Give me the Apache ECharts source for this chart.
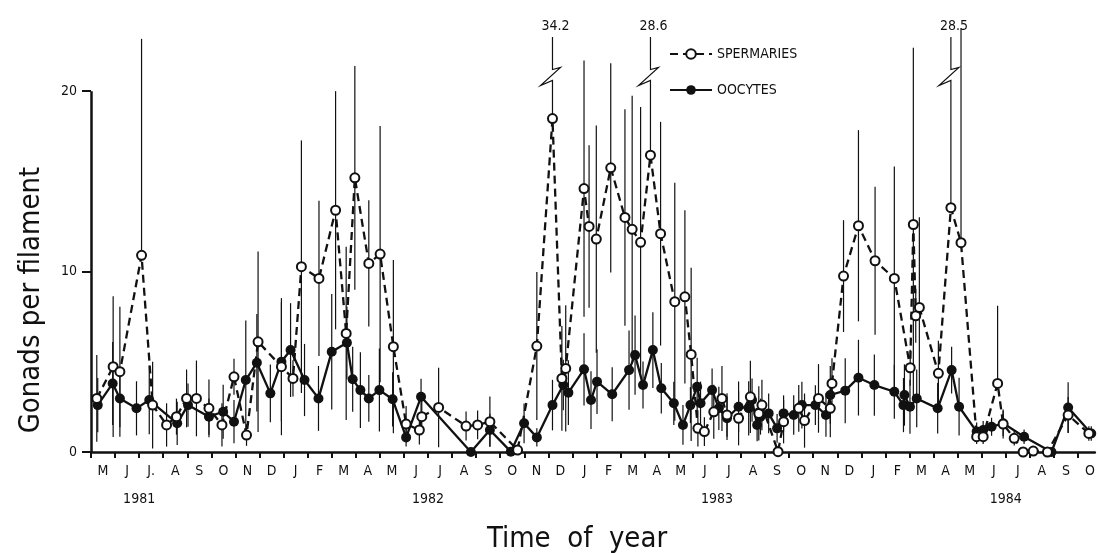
<!DOCTYPE html>
<html>
<head>
<meta charset="utf-8">
<title>Gonads per filament</title>
<script src="https://cdn.jsdelivr.net/npm/echarts@6/dist/echarts.min.js"></script>
<style>
  html, body { margin: 0; padding: 0; background: #fff; }
  #chart { width: 1098px; height: 553px; }
</style>
</head>
<body>
<div id="chart"></div>
<script>
// x positions are months counted from 1 May 1981 (0 = 1 May 1981)
const monthLabels = ['M', 'J', 'J.', 'A', 'S', 'O', 'N', 'D', 'J', 'F', 'M', 'A',
  'M', 'J', 'J', 'A', 'S', 'O', 'N', 'D', 'J', 'F', 'M', 'A',
  'M', 'J', 'J', 'A', 'S', 'O', 'N', 'D', 'J', 'F', 'M', 'A',
  'M', 'J', 'J', 'A', 'S', 'O']
const yearLabels = ['1981', '1982', '1983', '1984']
const yearMonths = [2, 14, 26, 38]
const yTicks = [0, 10, 20]

const spermMonth = [0.24, 0.92, 1.20, 2.10, 2.56, 3.14, 3.55, 3.97, 4.38, 4.90,
  5.44, 5.94, 6.46, 6.94, 7.91, 8.39, 8.74, 9.47, 10.16, 10.60,
  10.96, 11.54, 12.01, 12.56, 13.09, 13.64, 13.74, 14.44, 15.58, 16.06,
  16.57, 17.72, 18.52, 19.17, 19.56, 19.72, 20.48, 20.69, 20.99, 21.59,
  22.18, 22.48, 22.83, 23.24, 23.66, 24.25, 24.67, 24.93, 25.21, 25.48,
  25.87, 26.21, 26.42, 26.90, 27.39, 27.74, 27.87, 28.54, 28.77, 29.40,
  29.64, 30.22, 30.71, 30.78, 31.26, 31.88, 32.57, 33.37, 34.03, 34.16,
  34.26, 34.41, 35.20, 35.72, 36.14, 36.79, 37.06, 37.66, 37.89, 38.35,
  38.72, 39.14, 39.73, 40.59, 41.45]
const spermMean = [2.97, 4.73, 4.45, 10.9, 2.6, 1.5, 1.96, 2.97, 2.97, 2.42,
  1.5, 4.17, 0.94, 6.11, 4.73, 4.08, 10.27, 9.62, 13.4, 6.57,
  15.2, 10.45, 10.97, 5.84, 1.55, 1.22, 1.96, 2.47, 1.44, 1.5,
  1.68, 0.11, 5.87, 18.48, 4.08, 4.63, 14.6, 12.5, 11.8, 15.75,
  13.0, 12.34, 11.62, 16.45, 12.1, 8.33, 8.6, 5.41, 1.31, 1.13,
  2.23, 2.97, 2.05, 1.87, 3.06, 2.14, 2.6, 0.02, 1.68, 2.42,
  1.74, 2.97, 2.42, 3.8, 9.75, 12.54, 10.6, 9.62, 4.67, 12.61,
  7.55, 8.01, 4.36, 13.54, 11.6, 0.85, 0.85, 3.8, 1.55, 0.76,
  0, 0.05, 0, 2.05, 1.03]
const spermSd = [2.4, 3.9, 3.6, 12.0, 2.4, 1.2, 1.0, 1.6, 2.1, 1.6,
  1.2, 1.0, 0.6, 5.0, 3.8, 1.0, 7.0, 4.3, 6.6, 4.8,
  6.2, 3.5, 7.1, 4.8, 1.0, 0.8, 0.9, 2.2, 0.8, 0.8,
  1.4, 0.3, 4.1, 15.72, 2.9, 3.5, 7.1, 4.5, 6.3, 5.8,
  6.0, 7.4, 7.5, 12.15, 6.2, 6.6, 4.8, 4.8, 1.0, 0.8,
  1.5, 1.8, 1.2, 1.5, 2.0, 1.5, 1.4, 0.3, 1.2, 1.3,
  1.5, 1.9, 1.6, 1.4, 3.1, 5.3, 4.1, 6.2, 1.0, 9.8,
  1.5, 5.0, 1.8, 14.96, 11.9, 0.4, 0.4, 4.3, 0.8, 0.4,
  0, 0, 0, 1.0, 0.4]

const oocyMonth = [0.28, 0.90, 1.20, 1.89, 2.42, 3.58, 4.03, 4.90, 5.49, 5.94,
  6.43, 6.89, 7.45, 7.91, 8.29, 8.87, 9.45, 10.00, 10.63, 10.87,
  11.19, 11.54, 11.98, 12.53, 13.09, 13.71, 15.78, 16.57, 17.44, 17.99,
  18.52, 19.17, 19.62, 19.83, 20.48, 20.77, 21.02, 21.65, 22.35, 22.60,
  22.93, 23.34, 23.69, 24.21, 24.59, 24.90, 25.18, 25.32, 25.80, 26.08,
  26.42, 26.90, 27.32, 27.46, 27.67, 27.81, 28.15, 28.50, 28.77, 29.19,
  29.53, 30.09, 30.53, 30.71, 31.33, 31.88, 32.54, 33.37, 33.75, 33.79,
  34.02, 34.30, 35.17, 35.75, 36.06, 36.79, 37.06, 37.41, 37.89, 38.76,
  39.90, 40.59, 41.55]
const oocyMean = [2.6, 3.8, 2.97, 2.42, 2.88, 1.59, 2.6, 1.96, 2.23, 1.68,
  3.99, 4.95, 3.25, 5.0, 5.65, 3.99, 2.97, 5.56, 6.06, 4.03,
  3.43, 2.97, 3.43, 2.92, 0.81, 3.06, 0, 1.22, 0.02, 1.59,
  0.81, 2.6, 3.71, 3.29, 4.58, 2.88, 3.9, 3.2, 4.54, 5.37,
  3.71, 5.65, 3.53, 2.7, 1.5, 2.6, 3.62, 2.7, 3.43, 2.42,
  1.87, 2.51, 2.42, 2.88, 1.5, 1.96, 2.14, 1.31, 2.14, 2.05,
  2.6, 2.6, 2.05, 3.16, 3.4, 4.12, 3.71, 3.34, 2.6, 3.16,
  2.51, 2.97, 2.42, 4.54, 2.51, 1.13, 1.22, 1.4, 1.59, 0.85,
  0, 2.47, 1.03]
const oocySd = [1.5, 2.3, 1.6, 1.5, 1.9, 1.2, 1.2, 1.0, 1.5, 1.2,
  3.3, 2.7, 1.6, 3.3, 2.6, 2.0, 1.8, 3.2, 2.0, 1.8,
  2.1, 1.3, 2.3, 1.5, 0.5, 1.0, 0, 0.9, 0, 1.1,
  0.5, 1.4, 1.4, 1.8, 2.0, 1.6, 1.8, 1.5, 2.2, 2.2,
  1.3, 2.1, 1.4, 1.2, 1.1, 1.0, 1.6, 1.2, 1.2, 1.2,
  1.2, 1.4, 1.5, 1.2, 0.9, 1.0, 1.1, 0.8, 1.0, 1.1,
  1.3, 1.1, 1.2, 1.6, 1.8, 2.1, 1.7, 1.5, 1.5, 1.7,
  1.5, 1.6, 1.4, 1.3, 1.6, 0.5, 0.5, 0.5, 0.7, 0.4,
  0, 1.4, 0.4]

const INK = '#111'
const FONT = '"DejaVu Sans Condensed", "DejaVu Sans", sans-serif'
const X_MAX = 41.7
const Y_MAX = 24
// bars running off the top are cut, broken and get their value written above
const BREAK_AT = 21.2
const BAR_TOP = 23

const zip = (xs, ys, zs) => xs.map((x, i) => (zs ? [x, ys[i], zs[i]] : [x, ys[i]]))

function renderBar(params, api) {
  const m = api.value(0)
  const v = api.value(1)
  const sd = api.value(2)
  if (!sd) return null
  const hi = v + sd
  const offScale = hi > Y_MAX
  // the lower half is left out where it would run past zero, or where the bar is broken
  const lo = offScale || sd >= v ? v : v - sd
  const base = api.coord([m, lo])
  const style = { stroke: INK, lineWidth: 1.2, fill: null }
  if (!offScale) {
    const top = api.coord([m, hi])
    return { type: 'line', shape: { x1: base[0], y1: base[1], x2: top[0], y2: top[1] }, style }
  }
  const x = base[0]
  const yb = api.coord([m, BREAK_AT])[1]
  const yt = api.coord([m, BAR_TOP])[1]
  return {
    type: 'group',
    children: [
      {
        type: 'polyline',
        shape: { points: [[x, yt], [x, yb], [x + 8, yb - 2], [x - 12, yb + 16], [x, yb + 11], [x, base[1]]] },
        style
      },
      {
        type: 'text',
        style: {
          text: hi.toFixed(1), x: x + 3, y: yt - 4,
          textAlign: 'center', textVerticalAlign: 'bottom',
          fontSize: 14, fontFamily: FONT, fill: INK
        }
      }
    ]
  }
}

const chart = echarts.init(document.getElementById('chart'))
chart.setOption({
  animation: false,
  backgroundColor: '#fff',
  grid: { left: 91, right: 1, top: 19, bottom: 101 },
  legend: {
    orient: 'vertical',
    left: 664,
    top: 42,
    itemGap: 22,
    itemWidth: 42,
    itemHeight: 12,
    data: ['SPERMARIES', 'OOCYTES'],
    textStyle: { fontFamily: FONT, fontSize: 14, color: INK }
  },
  xAxis: [
    {
      type: 'value',
      min: 0,
      max: X_MAX,
      splitLine: { show: false },
      axisLine: { show: true, onZero: false, lineStyle: { color: INK, width: 2.5 } },
      axisTick: {
        show: true,
        length: 6,
        customValues: monthLabels.map((_, i) => i),
        lineStyle: { color: INK, width: 2 }
      },
      axisLabel: {
        customValues: monthLabels.map((_, i) => i + 0.5),
        formatter: (v) => monthLabels[Math.floor(v)],
        margin: 12,
        fontFamily: FONT,
        fontSize: 14,
        color: INK
      }
    },
    {
      type: 'value',
      min: 0,
      max: X_MAX,
      position: 'bottom',
      splitLine: { show: false },
      axisLine: { show: false },
      axisTick: { show: false },
      axisLabel: {
        customValues: yearMonths,
        formatter: (v) => yearLabels[yearMonths.indexOf(v)],
        margin: 40,
        fontFamily: FONT,
        fontSize: 14,
        color: INK
      }
    }
  ],
  yAxis: {
    type: 'value',
    min: 0,
    max: Y_MAX,
    splitLine: { show: false },
    axisLine: { show: false },
    axisTick: {
      show: true,
      length: 9,
      customValues: yTicks,
      lineStyle: { color: INK, width: 2 }
    },
    axisLabel: {
      customValues: yTicks,
      margin: 14,
      fontFamily: FONT,
      fontSize: 14,
      color: INK
    }
  },
  graphic: [
    {
      type: 'text',
      x: 31,
      y: 300,
      rotation: Math.PI / 2,
      style: {
        text: 'Gonads per filament',
        textAlign: 'center',
        textVerticalAlign: 'middle',
        fontFamily: FONT,
        fontSize: 29,
        fill: INK
      }
    },
    {
      type: 'text',
      x: 577,
      y: 539,
      style: {
        text: 'Time  of  year',
        textAlign: 'center',
        textVerticalAlign: 'middle',
        fontFamily: FONT,
        fontSize: 29,
        fill: INK
      }
    }
  ],
  series: [
    {
      name: 'bars',
      type: 'custom',
      clip: false,
      z: 1,
      renderItem: renderBar,
      encode: { x: 0, y: 1 },
      data: zip(spermMonth, spermMean, spermSd).concat(zip(oocyMonth, oocyMean, oocySd))
    },
    {
      name: 'SPERMARIES',
      type: 'line',
      z: 3,
      symbol: 'emptyCircle',
      symbolSize: 9,
      showAllSymbol: true,
      color: INK,
      lineStyle: { color: INK, width: 2.3, type: [8, 5] },
      itemStyle: { color: INK, borderColor: INK, borderWidth: 2.4 },
      data: zip(spermMonth, spermMean)
    },
    {
      name: 'OOCYTES',
      type: 'line',
      z: 2,
      symbol: 'circle',
      symbolSize: 10,
      showAllSymbol: true,
      color: INK,
      lineStyle: { color: INK, width: 2.3 },
      itemStyle: { color: INK },
      data: zip(oocyMonth, oocyMean),
      // the vertical axis line only runs up to 20
      markLine: {
        silent: true,
        symbol: 'none',
        label: { show: false },
        lineStyle: { color: INK, width: 2.5, type: 'solid' },
        data: [[{ coord: [0, 0] }, { coord: [0, 20] }]]
      }
    }
  ]
})
</script>
</body>
</html>
